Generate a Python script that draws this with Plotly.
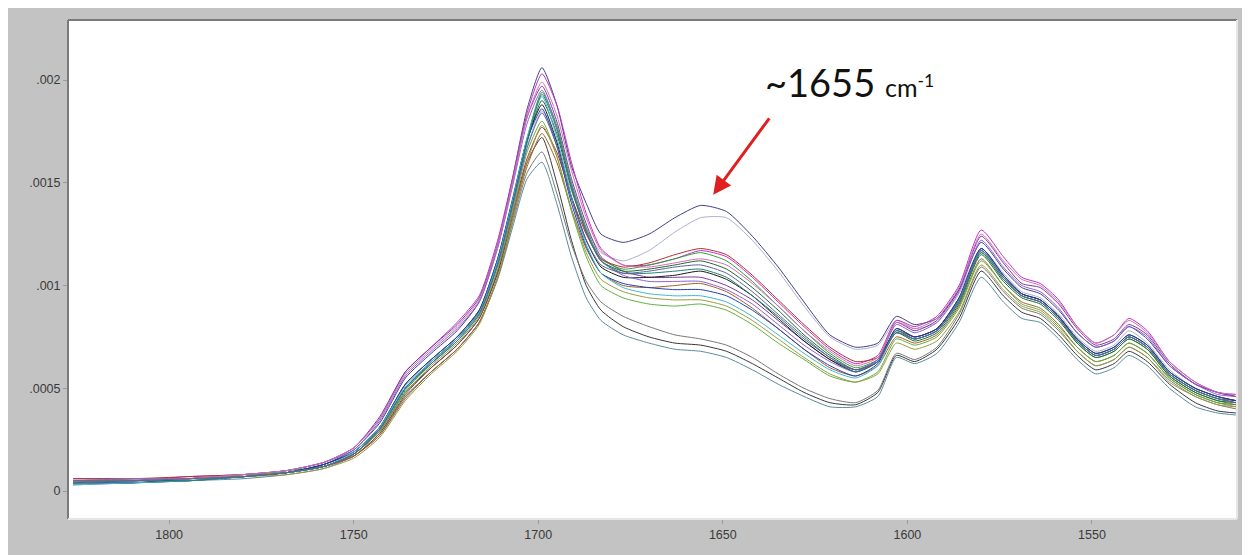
import plotly.graph_objects as go

# Wavenumbers (cm-1) at which the spectra are sampled
wavenumbers = [1826, 1810, 1795, 1780, 1768, 1758, 1750, 1743, 1736, 1729,
               1722, 1716, 1711, 1707, 1703, 1699, 1695, 1691, 1687, 1683,
               1677, 1670, 1663, 1656, 1649, 1642, 1635, 1628, 1621, 1614,
               1608, 1603, 1598, 1592, 1586, 1580, 1574, 1569, 1564, 1559,
               1554, 1549, 1544, 1540, 1535, 1529, 1522, 1516, 1511]

# Absorbance values, in units of 1e-5
s01 = [4, 6, 5, 7, 9, 13, 20, 33, 55, 67, 78, 92, 120, 152, 186, 206, 188, 158, 140, 125,
       121, 125, 133, 139, 136, 124, 109, 92, 76, 70, 72, 85, 81, 84, 98, 121, 108, 99, 96, 88,
       77, 70, 73, 80, 74, 61, 52, 48, 46]
s02 = [4, 5, 6, 7, 9, 12, 18, 30, 50, 63, 74, 87, 110, 138, 168, 185, 170, 146, 128, 116,
       112, 117, 126, 133, 133, 122, 107, 90, 75, 69, 71, 83, 79, 82, 96, 118, 106, 97, 94, 86,
       75, 68, 71, 78, 72, 59, 50, 46, 44]
s03 = [5, 5, 6, 7, 9, 12, 18, 29, 48, 60, 71, 84, 106, 133, 160, 172, 150, 122, 100, 88,
       80, 75, 72, 71, 68, 62, 55, 48, 43, 42, 48, 66, 63, 69, 84, 107, 95, 87, 84, 76,
       66, 59, 62, 68, 63, 52, 43, 39, 38]
s04 = [3, 4, 5, 6, 8, 11, 17, 27, 46, 58, 69, 82, 103, 128, 152, 160, 140, 114, 94, 83,
       76, 72, 69, 68, 65, 59, 52, 46, 41, 41, 46, 65, 62, 67, 82, 104, 92, 84, 82, 74,
       64, 57, 60, 66, 61, 50, 41, 38, 37]
s05 = [5, 5, 6, 8, 9, 12, 17, 28, 46, 58, 69, 82, 104, 130, 155, 165, 145, 120, 102, 92,
       85, 80, 76, 74, 71, 65, 57, 50, 45, 43, 49, 67, 64, 70, 86, 109, 97, 89, 86, 78,
       68, 61, 64, 70, 65, 54, 46, 42, 40]
s06 = [4, 5, 7, 8, 10, 14, 21, 35, 58, 70, 82, 95, 122, 152, 184, 203, 188, 160, 135, 118,
       110, 110, 113, 117, 114, 104, 92, 80, 69, 62, 66, 83, 80, 85, 100, 127, 114, 104, 101, 93,
       80, 72, 76, 84, 78, 63, 53, 48, 47]
s07 = [6, 6, 6, 8, 10, 14, 21, 36, 58, 70, 81, 94, 120, 150, 182, 197, 180, 152, 130, 114,
       107, 104, 104, 104, 100, 93, 83, 73, 64, 59, 64, 82, 78, 83, 98, 124, 111, 101, 99, 91,
       79, 71, 74, 81, 76, 62, 52, 48, 46]
s08 = [4, 5, 6, 7, 10, 12, 18, 29, 49, 62, 74, 87, 111, 140, 172, 194, 178, 150, 128, 113,
       108, 110, 113, 116, 112, 102, 90, 78, 67, 60, 64, 77, 74, 78, 92, 116, 103, 95, 92, 84,
       72, 65, 68, 74, 69, 56, 48, 44, 42]
s09 = [5, 5, 6, 7, 9, 12, 18, 30, 50, 63, 74, 87, 112, 140, 170, 190, 174, 147, 126, 112,
       107, 108, 110, 112, 108, 99, 88, 76, 66, 59, 63, 77, 73, 77, 91, 115, 102, 94, 91, 83,
       72, 65, 68, 74, 69, 56, 48, 44, 43]
s10 = [6, 6, 7, 8, 9, 12, 17, 28, 47, 60, 71, 84, 107, 135, 162, 177, 165, 143, 125, 113,
       109, 111, 115, 118, 115, 105, 93, 81, 70, 63, 65, 78, 75, 79, 93, 117, 104, 96, 93, 85,
       73, 66, 69, 75, 70, 57, 49, 45, 44]
s11 = [5, 5, 6, 7, 9, 12, 17, 27, 45, 58, 69, 82, 104, 132, 158, 174, 160, 137, 118, 106,
       100, 99, 100, 101, 97, 89, 79, 69, 60, 56, 61, 75, 72, 76, 90, 113, 100, 92, 89, 81,
       70, 63, 66, 72, 67, 55, 47, 43, 42]
s12 = [4, 4, 6, 7, 9, 13, 19, 31, 52, 64, 75, 88, 113, 141, 171, 188, 170, 143, 122, 109,
       104, 104, 105, 107, 103, 95, 84, 73, 64, 58, 63, 79, 75, 79, 94, 118, 105, 96, 93, 85,
       74, 67, 70, 76, 71, 58, 50, 46, 44]
s13 = [4, 4, 5, 7, 9, 13, 19, 31, 52, 64, 75, 88, 113, 142, 171, 186, 168, 140, 119, 106,
       101, 99, 98, 98, 95, 88, 79, 69, 61, 56, 62, 79, 75, 79, 94, 118, 105, 96, 93, 85,
       74, 67, 70, 76, 71, 58, 50, 46, 44]
s14 = [3, 4, 5, 7, 9, 12, 19, 31, 51, 63, 74, 87, 112, 141, 172, 192, 172, 143, 120, 106,
       99, 96, 95, 95, 92, 85, 76, 67, 59, 55, 61, 78, 74, 78, 93, 117, 104, 95, 92, 84,
       73, 66, 69, 75, 70, 57, 49, 45, 43]
s15 = [5, 5, 6, 8, 9, 12, 18, 29, 48, 61, 72, 85, 108, 136, 165, 180, 163, 136, 114, 100,
       94, 91, 90, 91, 88, 81, 72, 64, 56, 53, 58, 74, 71, 75, 89, 112, 100, 91, 88, 80,
       70, 63, 66, 72, 67, 55, 47, 43, 41]
s16 = [5, 6, 6, 7, 8, 11, 16, 26, 44, 57, 68, 81, 104, 132, 160, 178, 163, 137, 116, 103,
       97, 94, 93, 93, 90, 83, 74, 65, 57, 53, 57, 72, 69, 73, 87, 110, 98, 90, 87, 79,
       68, 61, 64, 70, 65, 53, 46, 42, 41]
s17 = [5, 6, 6, 8, 10, 14, 20, 34, 56, 68, 79, 92, 118, 148, 179, 195, 177, 149, 127, 112,
       105, 102, 102, 102, 98, 91, 81, 71, 63, 58, 64, 81, 77, 82, 97, 122, 109, 100, 97, 89,
       77, 70, 73, 80, 75, 61, 52, 47, 46]
s18 = [4, 5, 6, 8, 10, 14, 21, 35, 57, 69, 80, 93, 120, 150, 182, 199, 183, 156, 133, 117,
       110, 109, 111, 113, 110, 101, 90, 78, 68, 61, 65, 82, 79, 84, 99, 125, 112, 103, 100, 92,
       80, 72, 76, 83, 77, 63, 53, 48, 47]
s19 = [4, 5, 5, 7, 9, 12, 18, 30, 50, 62, 73, 86, 110, 139, 170, 193, 176, 148, 126, 112,
       106, 106, 107, 108, 104, 95, 85, 74, 65, 58, 63, 78, 74, 78, 92, 116, 103, 95, 92, 84,
       73, 66, 69, 75, 70, 57, 49, 45, 43]
s20 = [5, 5, 6, 7, 9, 12, 18, 30, 50, 62, 73, 86, 110, 138, 167, 184, 168, 142, 122, 110,
       106, 107, 109, 110, 106, 97, 86, 75, 65, 59, 63, 77, 74, 78, 93, 117, 104, 95, 92, 84,
       73, 66, 69, 75, 70, 57, 49, 45, 43]

series = [s01, s02, s03, s04, s05, s06, s07, s08, s09, s10,
          s11, s12, s13, s14, s15, s16, s17, s18, s19, s20]
colors = ["#40408c", "#b0b0cc", "#383838", "#5a8c9c", "#787878", "#c030c0", "#7a3aa0",
          "#30a040", "#1f6a30", "#b03030", "#a0602a", "#1a1a1a", "#2040b0", "#40b8d0",
          "#60b040", "#9a9a40", "#9060d0", "#d070b0", "#208070", "#6060a0"]

x_tickvals = [1800, 1750, 1700, 1650, 1600, 1550]
y_tickvals = [0, 0.0005, 0.001, 0.0015, 0.002]
y_ticktext = ["0", ".0005", ".001", ".0015", ".002"]

fig = go.Figure()
for s, c in zip(series, colors):
    fig.add_trace(go.Scatter(
        x=wavenumbers, y=[v * 1e-5 for v in s], mode="lines",
        line=dict(color=c, width=1, shape="spline", smoothing=0.6),
        showlegend=False, hoverinfo="skip"))

fig.update_layout(
    width=1242, height=547,
    paper_bgcolor="#c3c3c3", plot_bgcolor="#ffffff",
    margin=dict(l=60, r=13, t=12, b=36),
    font=dict(family="Liberation Sans, Arial, sans-serif", size=12.5, color="#3a3a3a"),
    xaxis=dict(range=[1827.4, 1510.7], tickvals=x_tickvals, showgrid=False, zeroline=False,
               ticks="outside", ticklen=4, tickcolor="#9a9a9a", showline=False),
    yaxis=dict(range=[-0.000136, 0.002292], tickvals=y_tickvals, ticktext=y_ticktext,
               showgrid=False, zeroline=False, ticks="outside", ticklen=4,
               tickcolor="#9a9a9a", showline=False),
    shapes=[
        dict(type="line", xref="paper", yref="paper", x0=0, x1=1, y0=1, y1=1,
             line=dict(color="#7a7a7a", width=2)),
        dict(type="line", xref="paper", yref="paper", x0=0, x1=0, y0=0, y1=1,
             line=dict(color="#7a7a7a", width=2)),
        dict(type="line", xref="paper", yref="paper", x0=0, x1=1, y0=0, y1=0,
             line=dict(color="#e6e6e6", width=2)),
        dict(type="line", xref="paper", yref="paper", x0=1, x1=1, y0=0, y1=1,
             line=dict(color="#e6e6e6", width=2)),
    ],
    annotations=[
        dict(x=1615.7, y=0.00199, xref="x", yref="y", showarrow=False,
             text="~1655 <span style='font-size:25px'>cm<sup>-1</sup></span>",
             font=dict(family="Lato, Open Sans, sans-serif", size=38, color="#111111")),
        dict(x=1652.6, y=0.001442, ax=1637.1, ay=0.001821, xref="x", yref="y",
             axref="x", ayref="y", text="", showarrow=True, arrowhead=2,
             arrowsize=1.2, arrowwidth=3, arrowcolor="#e02020"),
    ],
)

fig.write_html("out.html")
